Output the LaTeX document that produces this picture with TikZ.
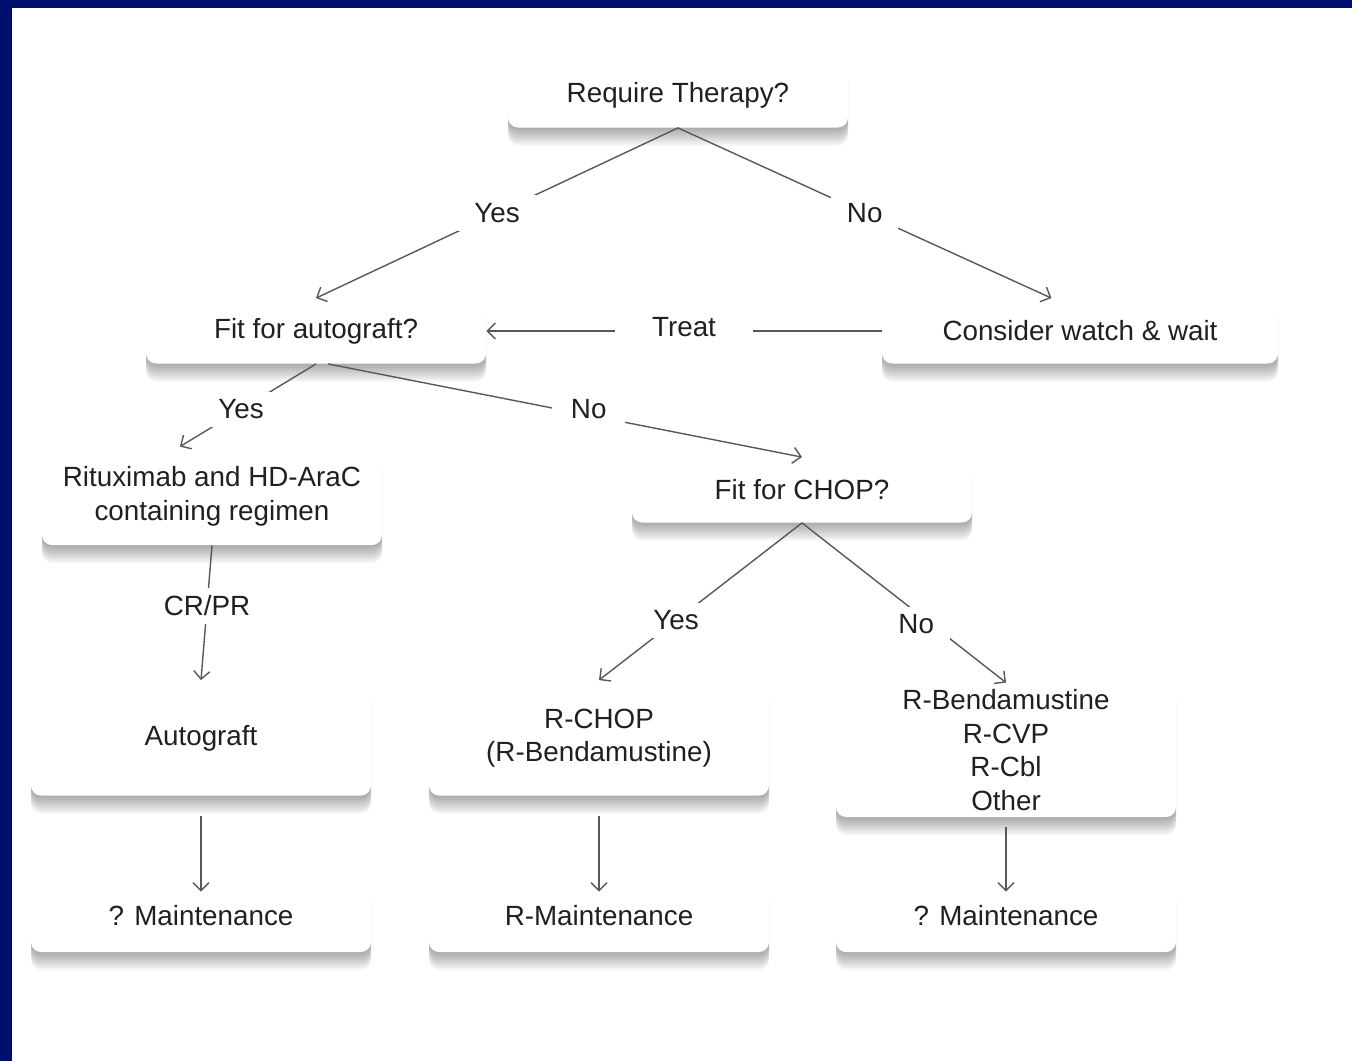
\documentclass[tikz,border=0pt]{standalone}
\usepackage{fontspec}
\setmainfont{Liberation Sans}
\usetikzlibrary{positioning, arrows.meta, shadows}
\definecolor{slideblue}{RGB}{0,14,110}
\definecolor{linegray}{RGB}{88,88,88}
\definecolor{textgray}{RGB}{32,32,32}
\tikzset{
>={Straight Barb[length=4pt, width=8pt]}, % open arrow heads
every edge/.append style={->}, % every edge is directed
softshadow/.style={general shadow={fill=black, opacity=0.04, shadow yshift=#1}}, % one layer of the shadow
box/.style={rectangle, rounded corners=5pt, fill=white, inner sep=0pt,
  minimum width=170pt, minimum height=32.5pt, align=center, text=textgray,
  font=\fontsize{13.9}{16.8}\selectfont,
  softshadow=-1pt, softshadow=-2pt, softshadow=-3pt, softshadow=-4pt, softshadow=-5pt,
  softshadow=-6pt, softshadow=-7pt, softshadow=-8pt, softshadow=-9pt}, % white card with soft shadow
choice/.style={fill=white, inner xsep=8pt, inner ysep=4pt, text=textgray,
  font=\fontsize{13.9}{16.8}\selectfont}, % answer written over a line
link/.style={draw=linegray, line width=0.7pt}, % connector
}
\begin{document}
\begin{tikzpicture}[x=0.5pt, y=-0.5pt]
                \useasboundingbox (0,0) rectangle (1352,1061);
                \fill[slideblue] (0,0) rectangle (1352,1061);
                \fill[white] (12,8) rectangle (1352,1061);
                \node[box] (req) at (678,95) {Require Therapy?};
                \node[box, below of=req, node distance=118pt, xshift=-181pt] (fit) {Fit for autograft?};
                \node[box, minimum width=198pt, right of=fit, node distance=382pt] (watch) {Consider watch \& wait};
                \node[box, minimum height=49pt, below of=fit, node distance=82.5pt, xshift=-52pt] (rit) {Rituximab and HD-AraC\\containing regimen};
                \node[box, right of=fit, node distance=243pt, yshift=-79.5pt] (chop) {Fit for CHOP?};
                \node[box, minimum height=57.5pt, below of=rit, node distance=121pt, xshift=-5.5pt] (auto) {Autograft};
                \node[box, minimum height=57.5pt, right of=auto, node distance=199pt] (rchop) {R-CHOP\\(R-Bendamustine)};
                \node[box, minimum height=67pt, right of=rchop, node distance=203.5pt, yshift=-6pt] (rben) {R-Bendamustine\\R-CVP\\R-Cbl\\Other};
                \node[box, minimum height=36pt, below of=auto, node distance=89pt] (mauto) {? Maintenance};
                \node[box, minimum height=36pt, right of=mauto, node distance=199pt] (mrchop) {R-Maintenance};
                \node[box, minimum height=36pt, right of=mrchop, node distance=203.5pt] (mrben) {? Maintenance};
                \draw[link]
                    (req.south) edge node[choice]{Yes} (fit.north)
                    (req.south) edge node[choice]{No} (watch.131)
                    (watch.west) edge node[choice, inner xsep=18.5pt, yshift=2pt]{Treat} (fit.east)
                    (fit.south) edge node[choice, pos=0.55]{Yes} (rit.123)
                    (fit.-70) edge node[choice, inner xsep=9.5pt, pos=0.55, yshift=3pt]{No} (chop.north)
                    (rit.south) edge node[choice, pos=0.45]{CR/PR} (auto.north)
                    (chop.south) edge node[choice, pos=0.62]{Yes} (rchop.north)
                    (chop.south) edge node[choice, pos=0.56, yshift=-6pt]{No} (rben.north)
                    (auto) edge[shorten <=10pt, shorten >=-6pt] (mauto)
                    (rchop) edge[shorten <=10pt, shorten >=-6pt] (mrchop)
                    (rben) edge[shorten <=5pt, shorten >=-6pt] (mrben)
                    ;
                \end{tikzpicture}
\end{document}
